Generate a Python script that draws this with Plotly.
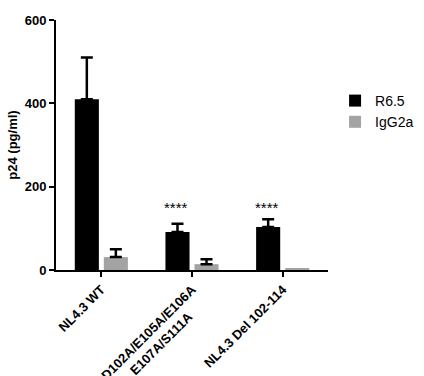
import plotly.graph_objects as go

NBSP = "\u00a0"
categories = ["NL4.3 WT", "D102A/E105A/E106A<br>E107A/S111A" + NBSP * 6, "NL4.3 Del 102-114"]
r65_values = [410, 91, 103]
r65_errors = [100, 20, 19]
igg_values = [31, 14, 4]
igg_errors = [19, 12, "none"]  # no visible error bar on the last bar
sig_labels = ["", "****", "****"]
sig_y = [149, 149, 149]
y_ticks = [0, 200, 400, 600]

font_family = "Liberation Sans, Arial, sans-serif"

fig = go.Figure()
fig.add_trace(go.Bar(
    name="R6.5", x=categories, y=r65_values,
    marker=dict(color="#000000", line=dict(width=0)),
    error_y=dict(type="data", array=r65_errors, arrayminus=[0]*3, symmetric=False,
                 color="#000000", thickness=2.5, width=6),
))
fig.add_trace(go.Bar(
    name="IgG2a", x=categories, y=igg_values,
    marker=dict(color="#a3a3a3", line=dict(width=0)),
    error_y=dict(type="data", array=igg_errors, arrayminus=[0, 0, "none"], symmetric=False,
                 color="#000000", thickness=2.5, width=6),
))

for cat, lab, yy in zip(categories, sig_labels, sig_y):
    if lab:
        fig.add_annotation(x=cat, y=yy, text=lab, showarrow=False, xshift=-16,
                           font=dict(family=font_family, size=15, color="#000"),
                           xref="x", yref="y")

fig.update_layout(
    width=424, height=376,
    margin=dict(l=56, r=96, t=20, b=106, autoexpand=False),
    paper_bgcolor="white", plot_bgcolor="white",
    barmode="group", bargap=0.36, bargroupgap=0.17,
    font=dict(family=font_family, color="#000"),
    legend=dict(x=1.026, y=0.74, xanchor="left", yanchor="top",
                font=dict(family=font_family, size=14, color="#000"),
                tracegroupgap=0, itemwidth=30),
    showlegend=True,
)
fig.update_xaxes(
    showline=True, linecolor="#000", linewidth=2,
    ticks="outside", ticklen=5, tickwidth=2, tickcolor="#000",
    tickangle=-45, range=[-0.5, 2.5], automargin=False,
    tickfont=dict(family=font_family, size=13, color="#000", weight="bold"),
    showgrid=False, zeroline=False,
)
fig.update_yaxes(
    range=[0, 600], tickvals=y_ticks, automargin=False,
    showline=True, linecolor="#000", linewidth=2,
    ticks="outside", ticklen=5, tickwidth=2, tickcolor="#000",
    tickfont=dict(family=font_family, size=13, color="#000", weight="bold"),
    title=dict(text="p24 (pg/ml)", font=dict(family=font_family, size=13, color="#000", weight="bold"), standoff=4),
    showgrid=False, zeroline=False,
)

fig.write_html("out.html")
